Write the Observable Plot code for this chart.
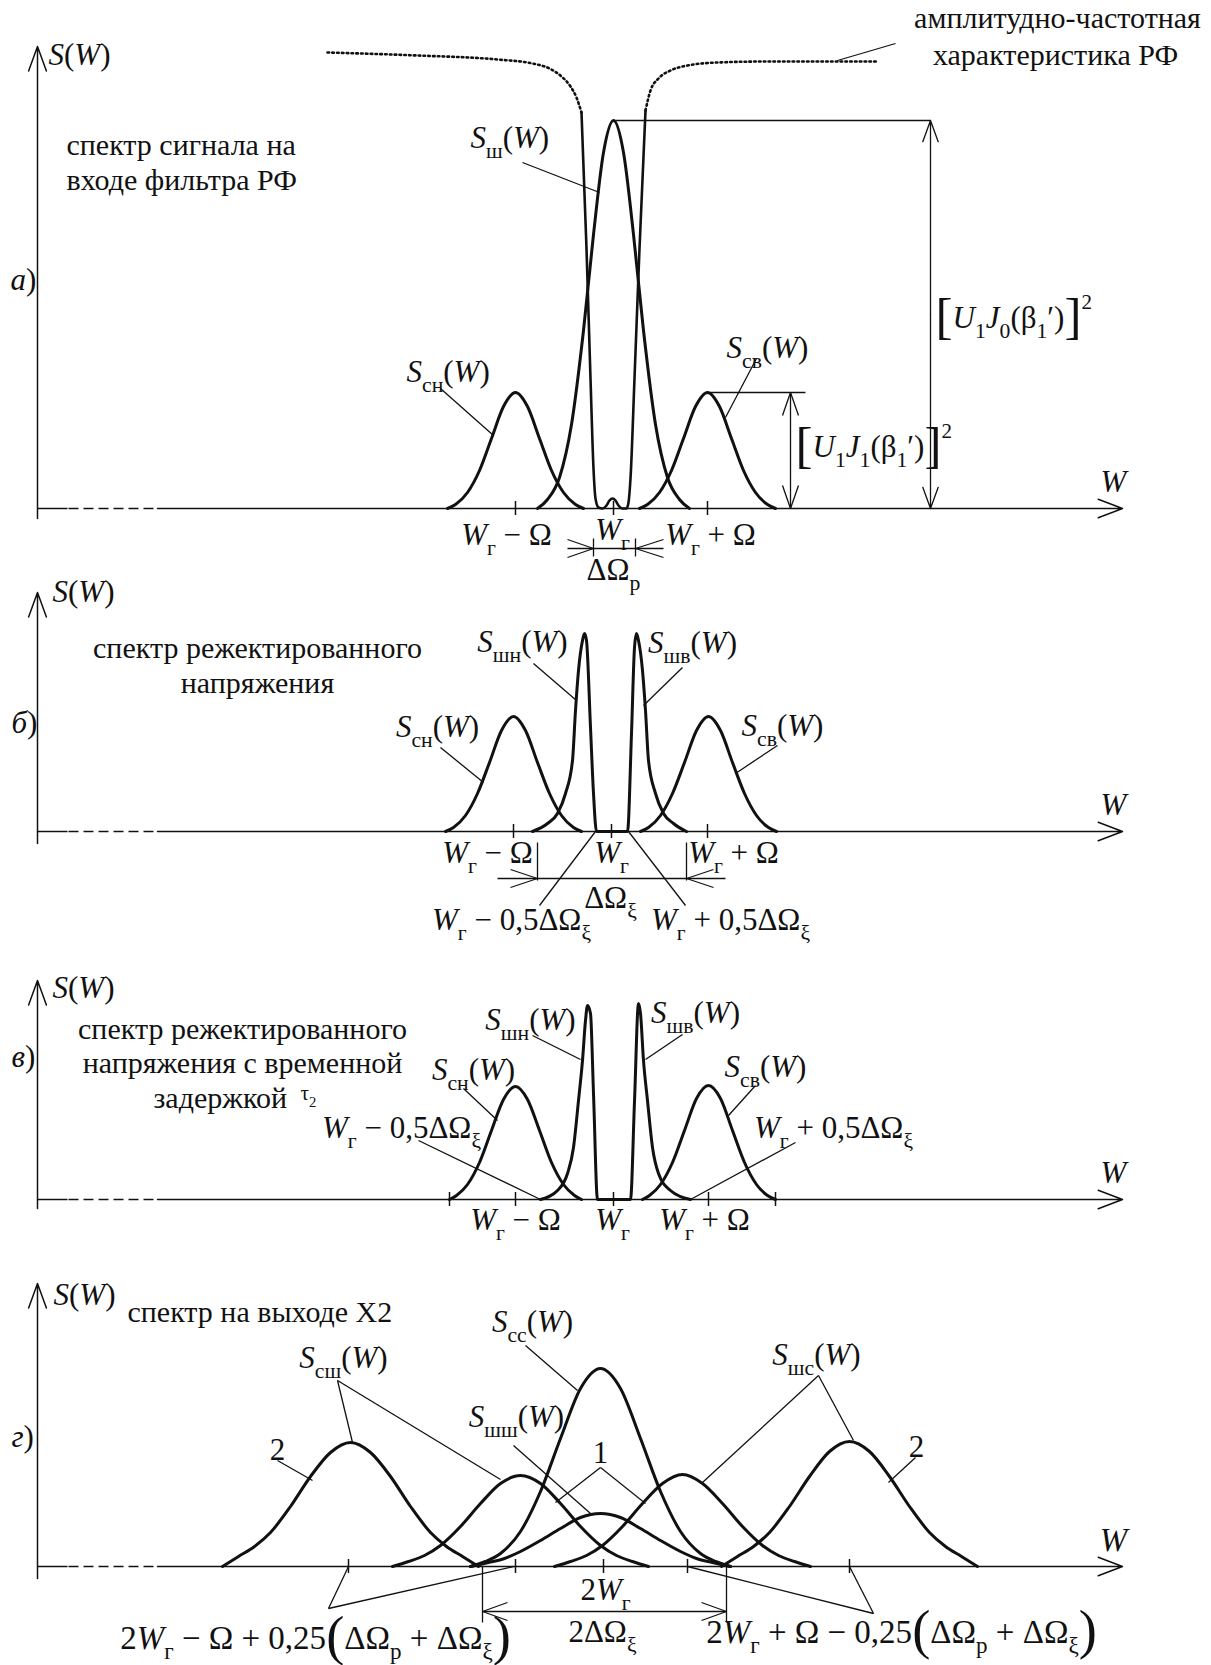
<!DOCTYPE html>
<html><head><meta charset="utf-8">
<script src="https://cdn.jsdelivr.net/npm/d3@7"></script>
<script src="https://cdn.jsdelivr.net/npm/@observablehq/plot@0.6"></script>
<style>body{margin:0;background:#fff}#chart svg{display:block}</style>
</head><body><div id="chart"></div>
<script>
// x: frequency (arbitrary units, 0 = S(W) axis); y: spectral density (arbitrary units, 0 = W axis)

// ---------- panel а ----------
const aSn = [[410,0],[418,4],[430,16],[442,38],[454,70],[466,102],[478,116],[490,102],[502,70],[514,38],[526,16],[538,4],[546,0]];
const aSv = [[602,0],[610,4],[622,16],[634,38],[646,70],[658,102],[670,116],[682,102],[694,70],[706,38],[718,16],[730,4],[738,0]];
const aSsh = [[500,0],[510,9],[522,31],[534,84],[546,178],[556,274],[566,356],[576,388],[586,356],[596,274],[606,178],[618,84],[630,31],[642,9],[652,0]];
const aNotch = [[544,396],[549,260],[553,130],[556,40],[558,10],[561,1],[565,0],[569,3],[572,8],[575,10],[578,8],[581,3],[585,0],[589,0],[591,6],[593,30],[597,130],[602,260],[608,398]];
const aFilterL = [[290,456],[380,453],[460,449],[495,445],[512,440],[524,432],[533,422],[539,411],[544,396]];
const aFilterR = [[608,398],[613,418],[621,430],[633,438],[650,443],[680,446],[730,447],[840,447]];
const aTicks = [478, 576, 670];
const aLeaders = [[485,346,562,316],[403,120,456,73],[719,150,688,91],[800,448,858,465],[576,388,893,388],[670,116,768,116],[556,-30,556,-48],[598,-30,598,-48],[530,-40,626,-40],[753,0,753,116]];
const aHeads = [[530,-31,556,-40],[530,-49,556,-40],[626,-31,598,-40],[626,-49,598,-40],[745,93,753,116],[761,93,753,116],[745,23,753,0],[761,23,753,0]];
const aArrows = [[893,194,893,388],[893,194,893,0]];
const aMathStart = [[11,453,"$S(W)"],[433,370,"$S_{ш}(W)"],[369,136,"$S_{сн}(W)"],[689,160,"$S_{св}(W)"],[898,190,"$#{[}U_{1}J_{0}(β_{1}′)#{]}^{2}"],[758,61,"$#{[}U_{1}J_{1}(β_{1}′)#{]}^{2}"],[-27,228,"$*{а})"]];
const aMathMid = [[469,-27,"$W_{г} − Ω"],[575,-22,"$W_{г}"],[673,-27,"$W_{г} + Ω"],[576,-62,"$ΔΩ_{р}"],[1076,26,"$W"]];
const aTextStart = [[29,363,"спектр сигнала на"],[29,328,"входе фильтра РФ"]];
const aTextMid = [[1020,490,"амплитудно-частотная"],[1018,453,"характеристика РФ"]];

// ---------- panel б ----------
const bSn = [[408,0],[416,4],[428,16],[440,38],[452,69],[464,101],[476,115],[488,101],[500,69],[512,38],[524,16],[536,4],[544,0]];
const bSv = [[603,0],[611,4],[623,16],[635,38],[647,69],[659,101],[671,115],[683,101],[695,69],[707,38],[719,16],[731,4],[739,0]];
const bNoise = [[495,0],[510,8],[520,18],[528,38],[535,71],[538,121],[541,161],[545,191],[547,198],[549,191],[553,104],[556,38],[559,0],[590,0],[594,98],[597,184],[599,198],[601,191],[605,161],[608,121],[611,71],[618,38],[626,18],[636,8],[649,0]];
const bTicks = [476, 574, 670];
const bLeaders = [[496,168,539,131],[645,164,606,126],[403,84,446,49],[740,86,698,58],[558,0,502,-74],[591,0,648,-74],[500,-11,500,-49],[649,-11,649,-49],[460,-47,688,-47]];
const bHeads = [[473,-38,500,-47],[473,-56,500,-47],[676,-38,649,-47],[676,-56,649,-47]];
const bMathStart = [[15,239,"$S(W)"],[-26,108,"$*{б})"]];
const bMathMid = [[485,189,"$S_{шн}(W)"],[655,188,"$S_{шв}(W)"],[400,104,"$S_{сн}(W)"],[745,105,"$S_{св}(W)"],[450,-22,"$W_{г} − Ω"],[574,-22,"$W_{г}"],[696,-22,"$W_{г} + Ω"],[573,-67,"$ΔΩ_{ξ}"],[474,-89,"$W_{г} − 0,5ΔΩ_{ξ}"],[693,-89,"$W_{г} + 0,5ΔΩ_{ξ}"],[1076,26,"$W"]];
const bTextMid = [[220,183,"спектр режектированного"],[220,148,"напряжения"]];

// ---------- panel в ----------
const vSn = [[412,0],[419,4],[430,15],[442,37],[454,69],[466,100],[478,113],[490,100],[502,69],[514,37],[526,15],[537,4],[544,0]];
const vSv = [[605,0],[612,4],[623,15],[635,37],[647,69],[659,101],[671,114],[683,101],[695,69],[707,37],[719,15],[730,4],[738,0]];
const vNoise = [[503,0],[520,9],[530,26],[536,52],[541,99],[545,139],[548,179],[550,194],[553,186],[556,106],[560,0],[593,0],[597,98],[601,196],[603,186],[606,139],[610,99],[615,52],[621,26],[633,9],[653,0]];
const vTicks = [412, 478, 576, 671, 738];
const vLeaders = [[495,164,543,140],[645,165,608,140],[426,111,460,79],[718,114,691,84],[381,59,503,0],[758,57,653,0]];
const vMathStart = [[15,211,"$S(W)"],[-26,142,"$*{в})"]];
const vMathMid = [[493,179,"$S_{шн}(W)"],[658,186,"$S_{шв}(W)"],[436,129,"$S_{сн}(W)"],[728,132,"$S_{св}(W)"],[478,-21,"$W_{г} − Ω"],[575,-21,"$W_{г}"],[667,-21,"$W_{г} + Ω"],[364,71,"$W_{г} − 0,5ΔΩ_{ξ}"],[796,71,"$W_{г} + 0,5ΔΩ_{ξ}"],[1076,26,"$W"]];
const vTau = [[263,106,"$τ_{2}"]];
const vTextMid = [[205,170,"спектр режектированного"],[205,136,"напряжения с временной"]];
const vTextStart = [[116,101,"задержкой"]];

// ---------- panel г ----------
const gL2 = [[185,0],[201,10],[217,20],[233,34],[253,60],[273,90],[293,114],[313,124],[333,114],[353,90],[373,60],[393,34],[409,20],[425,10],[441,0]];
const gR2 = [[684,0],[700,10],[716,20],[732,34],[752,60],[772,90],[792,115],[812,125],[832,115],[852,90],[872,60],[892,34],[908,20],[924,10],[940,0]];
const gCC = [[433,0],[448,5],[463,13],[483,35],[503,75],[523,128],[543,178],[563,198],[583,178],[603,128],[623,75],[643,35],[663,13],[678,5],[693,0]];
const gShSh = [[433,0],[451,4],[467,8],[483,15],[503,26],[523,38],[543,49],[563,53],[583,49],[603,38],[623,26],[643,15],[659,8],[675,4],[693,0]];
const gL1 = [[355,0],[371,5],[387,11],[403,21],[423,40],[443,63],[463,83],[483,91],[503,83],[523,63],[543,40],[563,21],[579,11],[595,5],[611,0]];
const gR1 = [[517,0],[533,5],[549,11],[565,21],[585,40],[605,63],[625,83],[645,92],[665,83],[685,63],[705,40],[725,21],[741,11],[757,5],[773,0]];
const gTicks = [311, 478, 566, 650, 812];
const gLeaders = [[291,-42,311,0],[291,-42,476,0],[836,-47,812,0],[836,-47,650,0],[300,186,315,124],[300,186,463,87],[240,106,275,86],[488,221,540,176],[476,121,553,53],[563,99,518,64],[563,99,608,63],[781,191,665,84],[781,191,816,126],[878,109,851,84],[445,0,445,-56],[689,0,689,-56],[445,-45,689,-45]];
const gHeads = [[470,-36,445,-45],[470,-54,445,-45],[664,-36,689,-45],[664,-54,689,-45]];
const gMathStart = [[16,271,"$S(W)"],[-26,129,"$*{г})"]];
const gMathMid = [[306,208,"$S_{сш}(W)"],[240,116,"2"],[495,244,"$S_{сс}(W)"],[479,149,"$S_{шш}(W)"],[563,113,"1"],[779,211,"$S_{шс}(W)"],[879,119,"2"],[568,-24,"$2W_{г}"],[565,-66,"$2ΔΩ_{ξ}"]];
const gLongMid = [[278,-72,"$2W_{г} − Ω + 0,25#{(}ΔΩ_{р} + ΔΩ_{ξ}#{)}"],[864,-66,"$2W_{г} + Ω − 0,25#{(}ΔΩ_{р} + ΔΩ_{ξ}#{)}"],[1076,26,"$W"]];
const gTextStart = [[90,254,"спектр на выходе Х2"]];

// ---------- shared axis pieces ----------
const axisSolid = [[0,0,30,0]];
const axisDashed = [[31,0,118,0]];
const axisArrow = [[120,0,1085,0]];

// ---------- drawing ----------
const FONT = "Liberation Serif";
const MATH = 31;
const X = d => d[0], Y = d => d[1];
const seg = {x1: d => d[0], y1: d => d[1], x2: d => d[2], y2: d => d[3]};
const curve = data => Plot.line(data, {x: X, y: Y, curve: "monotone-x", strokeWidth: 3, stroke: "#111"});
const thin = data => Plot.link(data, {...seg, strokeWidth: 1.3, stroke: "#111"});
const arrows = (data, angle = 40, len = 26) => Plot.arrow(data, {...seg, strokeWidth: 1.3, stroke: "#111", headAngle: angle, headLength: len});
const texts = (data, anchor, size) => Plot.text(data, {x: X, y: Y, text: d => d[2], textAnchor: anchor, fontSize: size, fontFamily: FONT, fill: "#111"});
const ticks = data => Plot.ruleX(data, {x: d => d, y1: -7, y2: 7, strokeWidth: 1.5, stroke: "#111"});
const dotted = data => Plot.line(data, {x: X, y: Y, curve: "monotone-x", strokeWidth: 2.6, stroke: "#111", strokeDasharray: "1.6,3.2"});

function axes(yBottom, yTop) {
  return [
    Plot.arrow([[0, yBottom, 0, yTop]], {...seg, strokeWidth: 1.5, stroke: "#111", headAngle: 40, headLength: 26}),
    Plot.link(axisSolid, {...seg, strokeWidth: 1.5, stroke: "#111"}),
    Plot.link(axisDashed, {...seg, strokeWidth: 1.5, stroke: "#111", strokeDasharray: "10,5"}),
    Plot.arrow(axisArrow, {...seg, strokeWidth: 1.5, stroke: "#111", headAngle: 42, headLength: 26})
  ];
}

function panel(height, ymin, ymax, marks) {
  return Plot.plot({
    width: 1211, height, margin: 0,
    x: {domain: [-37, 1174], axis: null},
    y: {domain: [ymin, ymax], axis: null},
    style: {fontFamily: FONT, background: "white", overflow: "visible"},
    marks
  });
}

const pA = panel(560, -52, 508, [
  ...axes(-10, 462),
  dotted(aFilterL), dotted(aFilterR),
  curve(aSn), curve(aSv), curve(aSsh),
  Plot.line(aNotch, {x: X, y: Y, curve: "monotone-x", strokeWidth: 2.6, stroke: "#111"}),
  ticks(aTicks), thin(aLeaders), thin(aHeads), arrows(aArrows),
  texts(aMathStart, "start", MATH), texts(aMathMid, "middle", MATH),
  texts(aTextStart, "start", 30), texts(aTextMid, "middle", 30)
]);

const pB = panel(400, -129, 271, [
  ...axes(-12, 239),
  curve(bSn), curve(bSv), curve(bNoise),
  ticks(bTicks), thin(bLeaders), thin(bHeads),
  texts(bMathStart, "start", MATH), texts(bMathMid, "middle", MATH),
  texts(bTextMid, "middle", 30)
]);

const pV = panel(310, -71, 239, [
  ...axes(-9, 219),
  curve(vSn), curve(vSv), curve(vNoise),
  ticks(vTicks), thin(vLeaders),
  texts(vMathStart, "start", MATH), texts(vMathMid, "middle", MATH),
  texts(vTau, "start", 21),
  texts(vTextMid, "middle", 30), texts(vTextStart, "start", 30)
]);

const pG = panel(395, -99, 296, [
  ...axes(-12, 283),
  curve(gL2), curve(gR2), curve(gCC), curve(gShSh), curve(gL1), curve(gR1),
  ticks(gTicks), thin(gLeaders), thin(gHeads),
  texts(gMathStart, "start", MATH), texts(gMathMid, "middle", MATH),
  texts(gLongMid, "middle", 33),
  texts(gTextStart, "start", 30)
]);

const root = document.getElementById("chart");
[pA, pB, pV, pG].forEach(p => root.appendChild(p));

// rich math text: "$" prefix, _{} subscript, ^{} superscript, #{} large delimiter, *{} italic
function richText(svg) {
  d3.select(svg).selectAll("text").each(function () {
    const s = this.textContent;
    if (!s.startsWith("$")) return;
    const F = parseFloat(getComputedStyle(this).fontSize) || MATH;
    const src = s.slice(1);
    const el = d3.select(this);
    this.textContent = "";
    let cur = 0;
    const add = (str, mode, italic) => {
      const ts = el.append("tspan").text(str);
      let size = F, shift = 0;
      if (mode === "sub") { size = 0.7 * F; shift = 0.3 * F; }
      else if (mode === "sup") { size = 0.68 * F; shift = -0.62 * F; }
      else if (mode === "big") { size = 1.65 * F; shift = 0.15 * F; }
      ts.attr("font-size", size);
      if (shift !== cur) { ts.attr("dy", shift - cur); cur = shift; }
      if (italic) ts.attr("font-style", "italic");
    };
    const emit = (str, mode, force) => {
      let run = "", runIt = null;
      for (const ch of str) {
        const it = force || /[A-Za-z]/.test(ch);
        if (runIt !== null && it !== runIt) { add(run, mode, runIt); run = ""; }
        run += ch; runIt = it;
      }
      if (run) add(run, mode, runIt);
    };
    let i = 0;
    const isTok = k => /[_^#*]/.test(src[k]) && src[k + 1] === "{";
    while (i < src.length) {
      if (isTok(i)) {
        const c = src[i];
        const j = src.indexOf("}", i + 2);
        const inner = src.slice(i + 2, j);
        emit(inner, c === "_" ? "sub" : c === "^" ? "sup" : c === "#" ? "big" : "norm", c === "*");
        i = j + 1;
      } else {
        let j = i;
        while (j < src.length && !isTok(j)) j++;
        emit(src.slice(i, j), "norm", false);
        i = j;
      }
    }
  });
}
[pA, pB, pV, pG].forEach(richText);
</script></body></html>
